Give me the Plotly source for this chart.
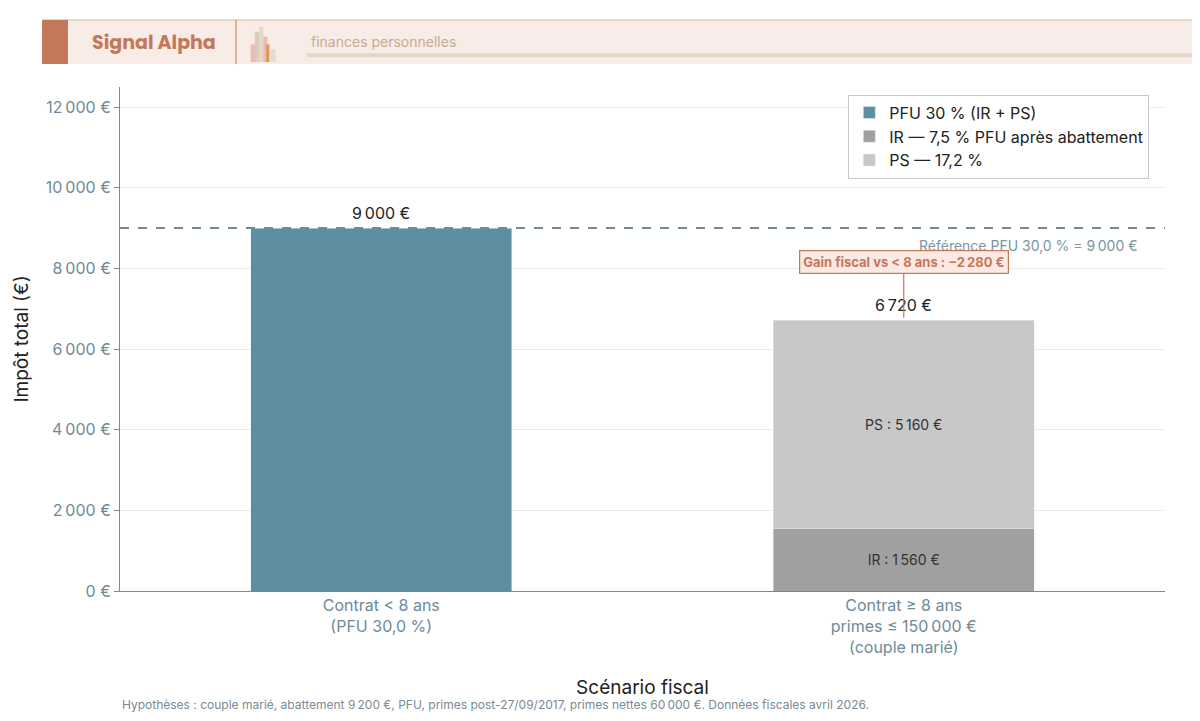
import plotly.graph_objects as go

categories = ["Contrat < 8 ans<br>(PFU 30,0 %)", "Contrat ≥ 8 ans<br>primes ≤ 150\u202f000 €<br>(couple marié)"]
pfu_values = [9000, None]
ir_values = [None, 1560]
ps_values = [None, 5160]
totals = [9000, 6720]
reference = 9000
y_ticks = [0, 2000, 4000, 6000, 8000, 10000, 12000]
y_tick_labels = ["0 €", "2\u202f000 €", "4\u202f000 €", "6\u202f000 €", "8\u202f000 €", "10\u202f000 €", "12\u202f000 €"]

fig = go.Figure()
fig.add_trace(go.Bar(x=categories, y=pfu_values, name="PFU 30 % (IR + PS)", marker_color="#5e8fa0", width=0.5))
fig.add_trace(go.Bar(x=categories, y=ir_values, name="IR — 7,5 % PFU après abattement", marker_color="#a0a0a0",
                     width=0.5, text=["", "IR : 1\u202f560 €"], textposition="inside", insidetextanchor="middle",
                     textfont=dict(color="#333", size=14)))
fig.add_trace(go.Bar(x=categories, y=ps_values, name="PS — 17,2 %", marker_color="#c8c8c8",
                     width=0.5, text=["", "PS : 5\u202f160 €"], textposition="inside", insidetextanchor="middle",
                     textfont=dict(color="#333", size=14)))

for c, t in zip(categories, totals):
    fig.add_annotation(x=c, y=t, text=f"{t:,}".replace(",", "\u202f") + " €", showarrow=False, yshift=15,
                       font=dict(size=16, color="#222"))

fig.add_hline(y=reference, line=dict(color="#6f8a99", width=2, dash="dash"))
fig.add_annotation(xref="paper", x=0.975, y=reference, yshift=-17, xanchor="right",
                   text="Référence PFU 30,0 % = 9\u202f000 €", showarrow=False, font=dict(size=14, color="#7a95a3"))
fig.add_annotation(x=categories[1], y=6780, ax=0, ay=-56, text="<b>Gain fiscal vs < 8 ans : −2\u202f280 €</b>",
                   showarrow=True, arrowhead=0, arrowcolor="#c4785a", arrowwidth=1.2,
                   bgcolor="#fbe9e3", bordercolor="#c4785a", borderwidth=1.2, borderpad=3,
                   font=dict(size=13, color="#c4785a"))

# header band
fig.add_shape(type="rect", xref="paper", yref="paper", x0=-0.0746, x1=1.034, y0=1.0456, y1=1.133,
              fillcolor="#f7ece6", line=dict(width=0), layer="below")
fig.add_shape(type="line", xref="paper", yref="paper", x0=-0.0746, x1=1.034, y0=1.133, y1=1.133,
              line=dict(color="#e0b5a0", width=1))
fig.add_shape(type="rect", xref="paper", yref="paper", x0=-0.0746, x1=-0.0498, y0=1.0456, y1=1.133,
              fillcolor="#c4785a", line=dict(width=0))
fig.add_shape(type="line", xref="paper", yref="paper", x0=0.111, x1=0.111, y0=1.0456, y1=1.133,
              line=dict(color="#c4785a", width=1))
fig.add_shape(type="line", xref="paper", yref="paper", x0=0.179, x1=1.034, y0=1.063, y1=1.063,
              line=dict(color="#e6d6c8", width=4))
for x0, w, h, col in [(0.125, 0.005, 0.035, "#e8b5a8"), (0.129, 0.004, 0.06, "#d8c8b5"), (0.133, 0.004, 0.07, "#e3d3c0"),
                      (0.137, 0.004, 0.05, "#e8b5a8"), (0.140, 0.003, 0.035, "#e08a3a"), (0.144, 0.005, 0.025, "#e3d8c8")]:
    fig.add_shape(type="rect", xref="paper", yref="paper", x0=x0, x1=x0 + w, y0=1.0496, y1=1.0496 + h,
                  fillcolor=col, line=dict(width=0), opacity=0.85)
fig.add_annotation(xref="paper", yref="paper", x=-0.0287, y=1.089, text="<b>Signal Alpha</b>", showarrow=False,
                   xanchor="left", yanchor="middle", font=dict(family="Poppins, Lato", size=19, color="#c4785a"))
fig.add_annotation(xref="paper", yref="paper", x=0.181, y=1.091, text="finances personnelles", showarrow=False,
                   xanchor="left", yanchor="middle", font=dict(size=14, color="#c9aa90"))
fig.add_annotation(xref="paper", yref="paper", x=0, y=-0.226, xanchor="left", yanchor="middle", showarrow=False,
                   text="Hypothèses : couple marié, abattement 9\u202f200 €, PFU, primes post-27/09/2017, primes nettes 60\u202f000 €. Données fiscales avril 2026.",
                   font=dict(size=12, color="#7a8a95"))

fig.update_layout(
    width=1184, height=705, barmode="stack", bargap=0.5,
    paper_bgcolor="white", plot_bgcolor="white",
    font=dict(family="Inter", color="#333"),
    margin=dict(l=112, r=27, t=79, b=122),
    legend=dict(x=0.985, y=0.985, xanchor="right", yanchor="top", bgcolor="white", traceorder="normal",
                bordercolor="#c8c8c8", borderwidth=1, font=dict(size=16, color="#222")),
    xaxis=dict(title=dict(text="Scénario fiscal", font=dict(size=19, color="#222"), standoff=24),
               tickfont=dict(size=16, color="#6f8a99"), showline=True, linecolor="#6f8a99", linewidth=1),
    yaxis=dict(title=dict(text="Impôt total (€)", font=dict(size=19, color="#222"), standoff=12),
               range=[0, 12500], tickvals=y_ticks, ticktext=y_tick_labels,
               tickfont=dict(size=16, color="#6f8a99"), showline=True, linecolor="#6f8a99",
               gridcolor="#ececec", zeroline=False, ticks="outside", tickcolor="#6f8a99"),
)
fig.write_html("out.html")
